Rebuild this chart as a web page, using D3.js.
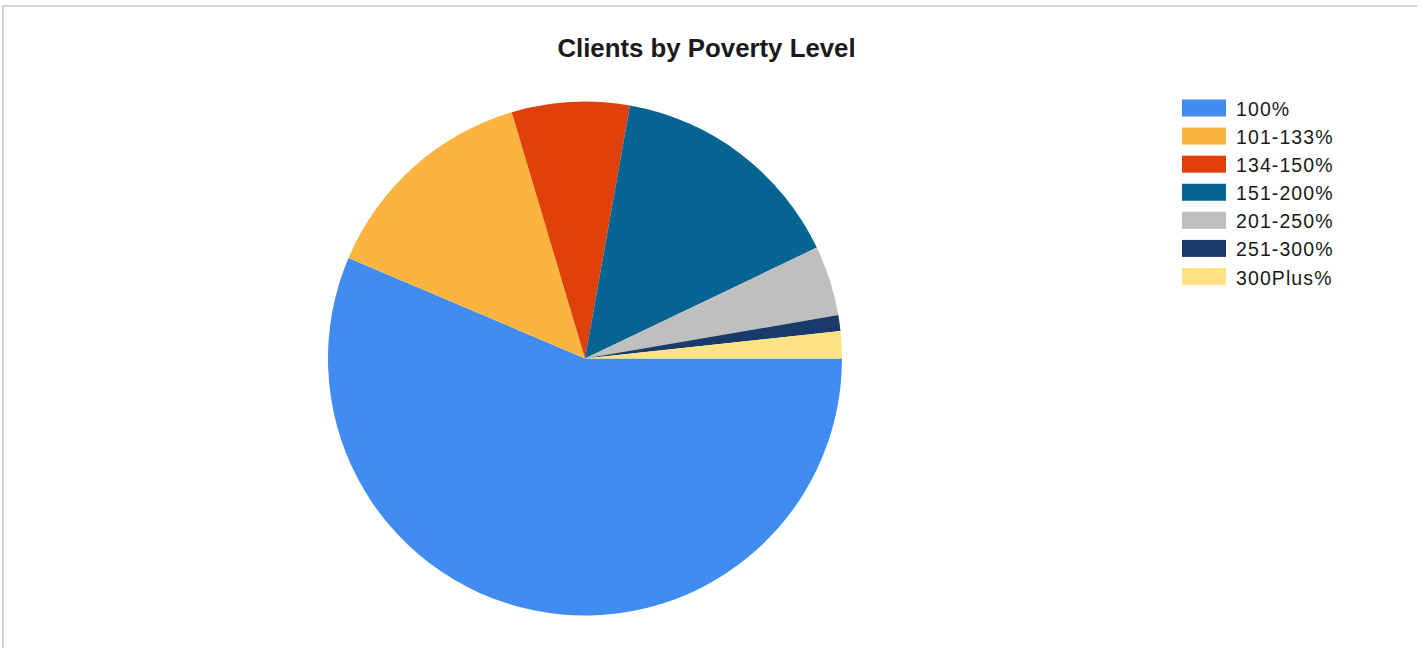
<!DOCTYPE html>
<html>
<head>
<meta charset="utf-8">
<script src="https://cdn.jsdelivr.net/npm/d3@7"></script>
<style>
  html, body { margin: 0; padding: 0; background: #fff; }
  svg { display: block; }
</style>
</head>
<body>
<svg id="chart" width="1424" height="648"></svg>
<script>
// Share of clients in each federal poverty level band (percent)
const categories = ["100%", "101-133%", "134-150%", "151-200%", "201-250%", "251-300%", "300Plus%"];
const values = [56.4, 14.0, 7.4, 15.1, 4.4, 1.0, 1.7];
const colors = ["#418CF0", "#FCB441", "#E0400A", "#056492", "#BFBFBF", "#1A3B69", "#FFE382"];
const title = "Clients by Poverty Level";

const data = categories.map((c, i) => ({ label: c, value: values[i] }));

const svg = d3.select("#chart");

// Frame lines along the top and left
svg.append("line").attr("x1", 3).attr("x2", 1417).attr("y1", 6).attr("y2", 6)
  .attr("stroke", "#d3d3d3").attr("stroke-width", 2);
svg.append("line").attr("x1", 3).attr("x2", 3).attr("y1", 5).attr("y2", 648)
  .attr("stroke", "#d3d3d3").attr("stroke-width", 2);

// Title
svg.append("text")
  .attr("x", 706.5).attr("y", 57)
  .attr("text-anchor", "middle")
  .attr("font-family", "Liberation Sans, Arial, sans-serif")
  .attr("font-weight", "bold")
  .attr("font-size", 25.8)
  .attr("fill", "#1a1a1a")
  .text(title);

// Pie, starting at 3 o'clock and running clockwise
const cx = 585, cy = 358.5, r = 257;
const color = d3.scaleOrdinal().domain(categories).range(colors);
const pie = d3.pie().sort(null).value(d => d.value)
  .startAngle(Math.PI / 2).endAngle(Math.PI / 2 + 2 * Math.PI);
const arc = d3.arc().innerRadius(0).outerRadius(r);

svg.append("g")
  .attr("transform", `translate(${cx},${cy})`)
  .selectAll("path")
  .data(pie(data))
  .join("path")
  .attr("d", arc)
  .attr("fill", d => color(d.data.label));

// Legend
const legendY = d3.scalePoint().domain(categories).range([99.5, 268]);
const legend = svg.append("g")
  .selectAll("g")
  .data(categories)
  .join("g")
  .attr("transform", c => `translate(1182,${legendY(c)})`);

legend.append("rect")
  .attr("width", 44).attr("height", 17)
  .attr("fill", c => color(c));

legend.append("text")
  .attr("x", 54).attr("y", 16.5)
  .attr("font-family", "Liberation Sans, Arial, sans-serif")
  .attr("font-size", 19.5)
  .attr("letter-spacing", 1.1)
  .attr("fill", "#1a1a1a")
  .text(c => c);
</script>
</body>
</html>
